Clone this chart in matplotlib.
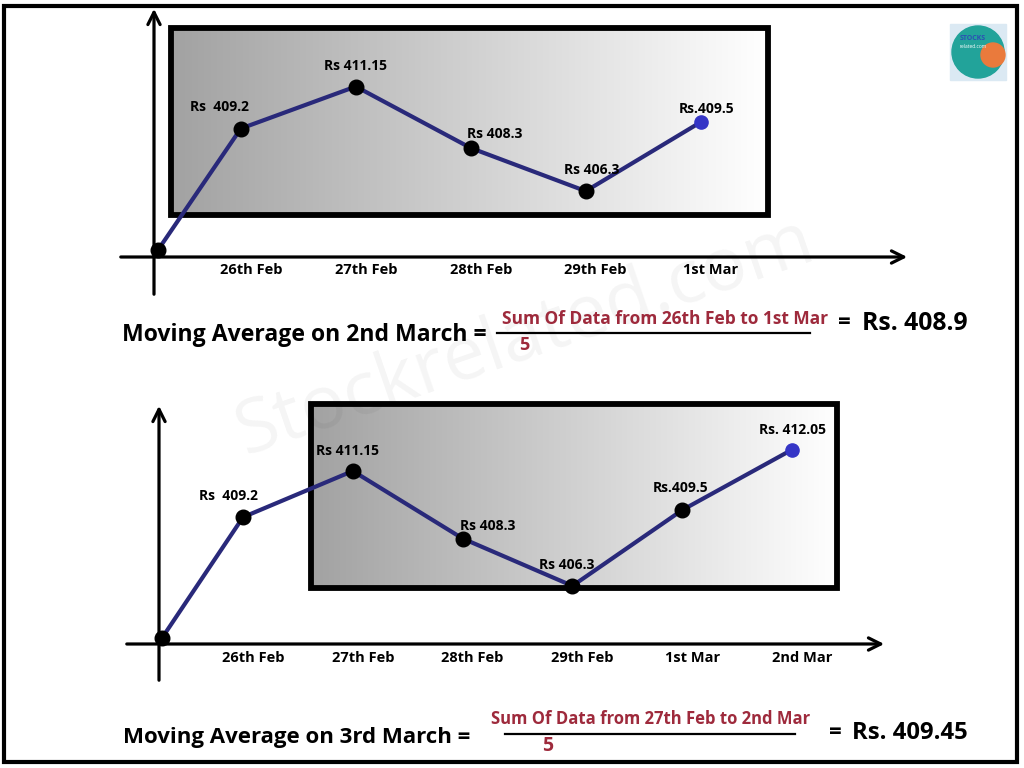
import numpy as np
import matplotlib.pyplot as plt
import matplotlib.transforms as mtransforms
from matplotlib.patches import Rectangle, Circle
from matplotlib.colors import LinearSegmentedColormap

# Chart values
top_dates = ["26th Feb", "27th Feb", "28th Feb", "29th Feb", "1st Mar"]
top_prices = [409.2, 411.15, 408.3, 406.3, 409.5]
top_labels = ["Rs  409.2", "Rs 411.15", "Rs 408.3", "Rs 406.3", "Rs.409.5"]

bottom_dates = ["26th Feb", "27th Feb", "28th Feb", "29th Feb", "1st Mar", "2nd Mar"]
bottom_prices = [409.2, 411.15, 408.3, 406.3, 409.5, 412.05]
bottom_labels = ["Rs  409.2", "Rs 411.15", "Rs 408.3", "Rs 406.3", "Rs.409.5", "Rs. 412.05"]

top_title = "Moving Average on 2nd March ="
top_numerator = "Sum Of Data from 26th Feb to 1st Mar"
top_result = "Rs. 408.9"
bottom_title = "Moving Average on 3rd March ="
bottom_numerator = "Sum Of Data from 27th Feb to 2nd Mar"
bottom_result = "Rs. 409.45"
window = 5

# label offsets in pixels (dx, dy) relative to each point
top_offsets = [(-21, 22), (0, 21), (24, 14), (6, 21), (6, 13)]
bottom_offsets = [(-15, 21), (-5, 20), (25, 13), (-6, 21), (-2, 22), (0, 20)]

plt.rcParams["font.family"] = ["Open Sans", "DejaVu Sans"]
RED = "#9e2a3c"
LINE = "#29297a"

fig = plt.figure(figsize=(10.24, 7.68), dpi=100)
bg = fig.add_axes([0, 0, 1, 1], zorder=0)

# gradient boxes
grad = np.linspace(0, 1, 256).reshape(1, -1)
cmap = LinearSegmentedColormap.from_list("box", ["#a2a2a2", "#ffffff"])
for (x0, y0, x1, y1) in [(171, 28, 768, 215), (311, 404, 837, 588)]:
    bg.imshow(grad, cmap=cmap, extent=(x0, x1, y1, y0), aspect="auto", zorder=1)
    bg.add_patch(Rectangle((x0, y0), x1 - x0, y1 - y0, fill=False, lw=4.2,
                           edgecolor="black", zorder=2))

bg.set_xlim(0, 1024)
bg.set_ylim(768, 0)
bg.axis("off")

# page border
bg.add_patch(Rectangle((4, 6), 1013, 756, fill=False, lw=3, edgecolor="black", zorder=5))

# watermark
bg.text(525, 338, "Stockrelated.com", rotation=19, fontsize=54, color="black",
        alpha=0.045, ha="center", va="center", zorder=3)

# axis arrows
arrow = dict(arrowstyle="->", lw=2.3, color="black", mutation_scale=22)
bg.annotate("", xy=(910, 257), xytext=(118, 257), arrowprops=arrow, zorder=4)
bg.annotate("", xy=(154, 6), xytext=(154, 297), arrowprops=arrow, zorder=4)
bg.annotate("", xy=(887, 644), xytext=(124, 644), arrowprops=arrow, zorder=4)
bg.annotate("", xy=(159, 403), xytext=(159, 683), arrowprops=arrow, zorder=4)

# logo
bg.add_patch(Rectangle((950, 24), 56, 56, color="#dbe9f3", zorder=3))
bg.add_patch(Circle((978, 52), 26, color="#22a39a", zorder=3))
bg.add_patch(Circle((993, 55), 12, color="#ea7a3c", zorder=3))
bg.text(973, 39, "STOCKS", fontsize=5, fontweight="bold", color="#2c50b4",
        ha="center", va="center", zorder=4)
bg.text(973, 46, "related.com", fontsize=3.5, color="white", ha="center",
        va="center", zorder=4)


def draw_chart(rect, xlim, ylim, dates, prices, labels, offsets):
    ax = fig.add_axes(rect, zorder=6)
    ax.patch.set_alpha(0)
    for s in ax.spines.values():
        s.set_visible(False)
    ax.set_xlim(*xlim)
    ax.set_ylim(*ylim)
    x = np.arange(1, len(prices) + 1)
    xs = [xlim[0]] + list(x)
    ys = [ylim[0]] + list(prices)
    ax.plot(xs, ys, color=LINE, lw=3, solid_capstyle="round", clip_on=False, zorder=2)
    ax.plot(xs[:-1], ys[:-1], "o", color="black", ms=10.5, clip_on=False, zorder=3)
    ax.plot(xs[-1], ys[-1], "o", color="#3535c6", ms=9.5, clip_on=False, zorder=3)
    for xi, p, lab, (dx, dy) in zip(x, prices, labels, offsets):
        ax.annotate(lab, (xi, p), xytext=(dx, dy), textcoords="offset pixels",
                    ha="center", va="center", fontsize=10, fontweight="bold")
    ax.set_yticks([])
    ax.set_xticks(x, dates, fontsize=10.5, fontweight="bold")
    ax.tick_params(axis="x", length=0, pad=9)
    shift = mtransforms.ScaledTranslation(0.1, 0, fig.dpi_scale_trans)
    for t in ax.get_xticklabels():
        t.set_transform(t.get_transform() + shift)
    return ax


draw_chart([158 / 1024, 1 - 250 / 768, 752 / 1024, 223 / 768],
           (0.28, 6.82), (403.57, 413.91), top_dates, top_prices, top_labels, top_offsets)
draw_chart([162 / 1024, 1 - 638 / 768, 725 / 1024, 235 / 768],
           (0.262, 6.865), (404.10, 414.02), bottom_dates, bottom_prices, bottom_labels,
           bottom_offsets)

# formulas
bg.text(122, 335, top_title, fontsize=16.6, fontweight="bold", ha="left", va="center", zorder=6)
bg.text(665, 319, top_numerator, fontsize=12.5, fontweight="bold", color=RED,
        ha="center", va="center", zorder=6)
bg.plot([497, 810], [333, 333], color="black", lw=1.6, zorder=6)
bg.text(524, 345, str(window), fontsize=13, fontweight="bold", color=RED,
        ha="center", va="center", zorder=6)
bg.text(844, 322, "=", fontsize=16, fontweight="bold", ha="center", va="center", zorder=6)
bg.text(862, 323, top_result, fontsize=17.8, fontweight="bold", ha="left", va="center", zorder=6)

bg.text(123, 737, bottom_title, fontsize=16, fontweight="bold",
        ha="left", va="center", zorder=6)
bg.text(651, 719, bottom_numerator, fontsize=12, fontweight="bold", color=RED,
        ha="center", va="center", zorder=6)
bg.plot([505, 795], [734, 734], color="black", lw=1.6, zorder=6)
bg.text(548, 746, str(window), fontsize=14, fontweight="bold", color=RED,
        ha="center", va="center", zorder=6)
bg.text(835, 732, "=", fontsize=16, fontweight="bold", ha="center", va="center", zorder=6)
bg.text(852, 733, bottom_result, fontsize=17.2, fontweight="bold", ha="left", va="center", zorder=6)

fig.savefig("out.png", dpi=100)
